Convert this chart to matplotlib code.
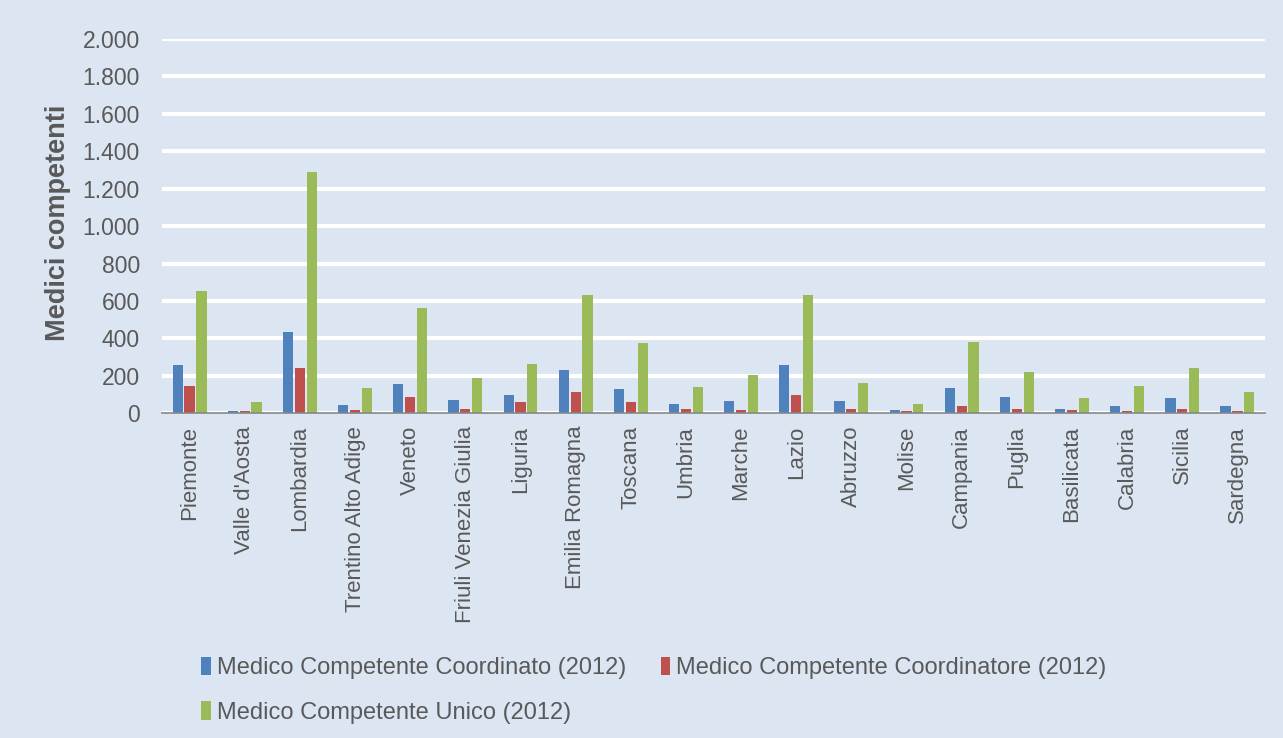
import matplotlib
matplotlib.use("Agg")
import matplotlib.pyplot as plt
import numpy as np
from matplotlib.ticker import FuncFormatter

regions = ["Piemonte", "Valle d'Aosta", "Lombardia", "Trentino Alto Adige", "Veneto",
           "Friuli Venezia Giulia", "Liguria", "Emilia Romagna", "Toscana", "Umbria",
           "Marche", "Lazio", "Abruzzo", "Molise", "Campania", "Puglia", "Basilicata",
           "Calabria", "Sicilia", "Sardegna"]
coordinato = [258, 12, 435, 45, 157, 71, 98, 232, 130, 50, 66, 258, 66, 18, 135, 87, 23, 39, 82, 39]
coordinatore = [146, 12, 242, 18, 87, 23, 61, 114, 61, 23, 18, 98, 23, 12, 39, 23, 18, 12, 23, 12]
unico = [654, 61, 1290, 135, 563, 189, 264, 632, 376, 141, 205, 632, 162, 50, 381, 221, 82, 146, 242, 114]
series_names = ["Medico Competente Coordinato (2012)",
                "Medico Competente Coordinatore (2012)",
                "Medico Competente Unico (2012)"]
yticks = [0, 200, 400, 600, 800, 1000, 1200, 1400, 1600, 1800, 2000]

plt.rcParams['font.family'] = ['Liberation Sans', 'DejaVu Sans']
bg = "#DCE6F2"
txt = "#595959"
colors = ["#4F81BD", "#C0504D", "#9BBB59"]

fig = plt.figure(figsize=(12.83, 7.38), dpi=100, facecolor=bg)
ax = fig.add_axes([162/1283, 1 - 413.3/738, (1265-162)/1283, (413.3-39)/738])
ax.set_facecolor(bg)

x = np.arange(len(regions))
w = 0.185
offs = [-0.215, 0, 0.215]
handles = []
for vals, c, o, n in zip([coordinato, coordinatore, unico], colors, offs, series_names):
    h = ax.bar(x + o, vals, width=w, color=c, label=n, zorder=3)
    handles.append(h)

ax.set_xlim(-0.5, len(regions) - 0.5)
ax.set_ylim(0, 2000)
ax.set_yticks(yticks)
ax.yaxis.set_major_formatter(FuncFormatter(lambda v, p: f"{int(v):,}".replace(",", ".")))
ax.grid(axis='y', color='white', linewidth=3, zorder=1)
ax.set_axisbelow(True)
for s in ['top', 'right', 'left']:
    ax.spines[s].set_visible(False)
ax.spines['bottom'].set_color('#868686')
ax.spines['bottom'].set_linewidth(1.2)
ax.spines['bottom'].set_zorder(4)
ax.tick_params(axis='both', length=0, colors=txt)
ax.tick_params(axis='y', pad=16, labelsize=16.5)
ax.tick_params(axis='x', pad=9, labelsize=16)
ax.set_xticks(x)
ax.set_xticklabels(regions, rotation=90)
ax.set_ylabel("Medici competenti", fontsize=19.5, fontweight='bold', color=txt)
ax.yaxis.label.set_horizontalalignment('center')
ax.yaxis.set_label_coords((58 - 162) / (1265 - 162), 0.51)
ax.yaxis.label.set_verticalalignment('center')

order = [handles[0], handles[2], handles[1]]
labels = [series_names[0], series_names[2], series_names[1]]
fig.legend(order, labels, loc='upper left', bbox_to_anchor=(180/1283, 1 - 636/738),
           ncol=2, frameon=False, fontsize=17, labelcolor=txt,
           handlelength=0.42, handleheight=0.8, handletextpad=0.25,
           columnspacing=1.45, labelspacing=0.93, borderpad=0.4)

fig.savefig("out.png", dpi=100, facecolor=bg)
